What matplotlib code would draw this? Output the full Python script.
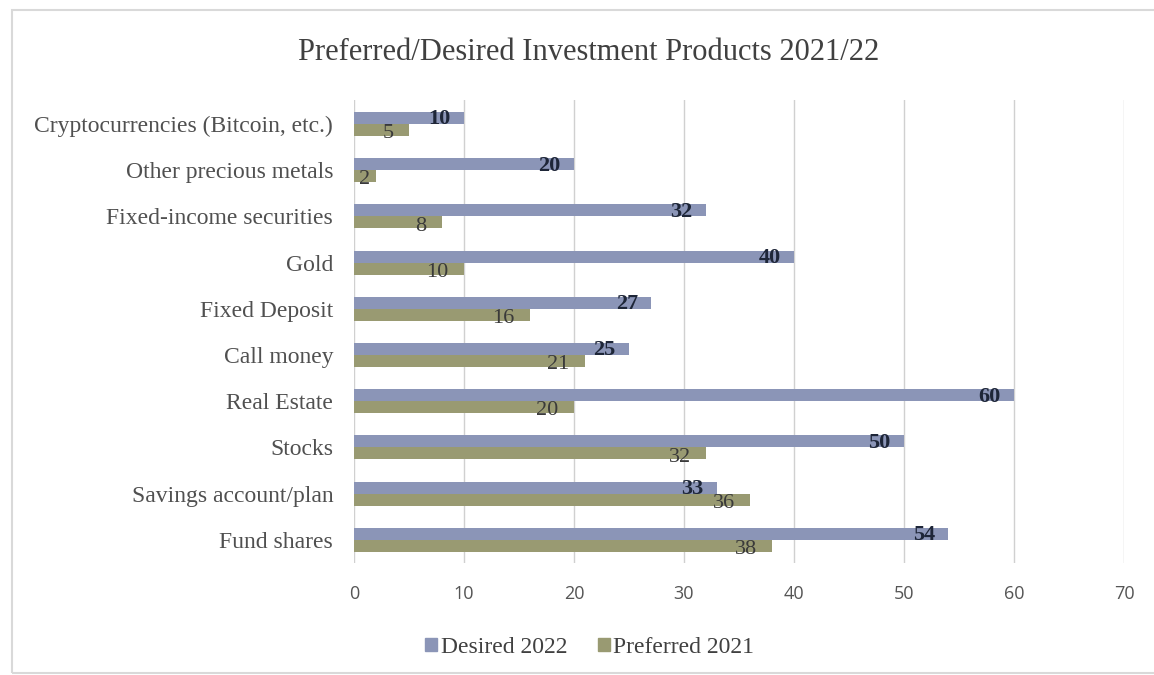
import numpy as np
import matplotlib.pyplot as plt
from matplotlib.patches import Rectangle, Patch

categories = ["Cryptocurrencies (Bitcoin, etc.)", "Other precious metals",
              "Fixed-income securities", "Gold", "Fixed Deposit", "Call money",
              "Real Estate", "Stocks", "Savings account/plan", "Fund shares"]
desired_2022 = [10, 20, 32, 40, 27, 25, 60, 50, 33, 54]
preferred_2021 = [5, 2, 8, 10, 16, 21, 20, 32, 36, 38]
x_ticks = [0, 10, 20, 30, 40, 50, 60, 70]

c_desired = "#8b95b7"
c_preferred = "#999a72"
serif = ["Liberation Serif", "DejaVu Serif"]

fig = plt.figure(figsize=(11.54, 6.75), dpi=100)
ax = fig.add_axes([354 / 1154, 1 - 563 / 675, 770 / 1154, 463 / 675])

y = np.arange(len(categories))
h = 0.26
bars_d = ax.barh(y - h / 2, desired_2022, height=h, color=c_desired, zorder=3)
bars_p = ax.barh(y + h / 2, preferred_2021, height=h, color=c_preferred, zorder=3)

# value labels, inside the bar end
for rect, v in zip(bars_d, desired_2022):
    ax.text(v - 1.2, rect.get_y() + rect.get_height() / 2 + 0.03, str(v),
            ha="right", va="center", fontsize=16, fontweight="bold",
            color="#1e2638", family=serif, zorder=4)
for rect, v in zip(bars_p, preferred_2021):
    ax.text(max(v - 1.4, 1.5), rect.get_y() + rect.get_height() / 2 + 0.08,
            str(v), ha="right", va="center", fontsize=16,
            color="#3a3a3a", family=serif, zorder=4)

ax.set_ylim(9.5, -0.52)
ax.set_xlim(0, 70)
ax.set_yticks(y)
ax.set_yticklabels(categories, family=serif, fontsize=17, color="#505050")
ax.set_xticks(x_ticks)
ax.set_xticklabels([str(t) for t in x_ticks], family="Open Sans",
                   fontsize=13, color="#555555")
ax.tick_params(axis="y", length=0, pad=15)
ax.tick_params(axis="x", length=0, pad=16)
ax.grid(axis="x", color="#d0d0d0", linewidth=1, zorder=0)
for s in ax.spines.values():
    s.set_visible(False)

fig.text(0.51, 0.922, "Preferred/Desired Investment Products 2021/22",
         ha="center", va="center", fontsize=22, color="#404040", family=serif)

handles = [Patch(color=c_desired, label="Desired 2022"),
           Patch(color=c_preferred, label="Preferred 2021")]
fig.legend(handles=handles, loc="center", bbox_to_anchor=(0.511, 0.041),
           ncol=2, frameon=False, prop={"family": serif, "size": 17},
           handlelength=0.5, handleheight=0.5, handletextpad=0.15,
           columnspacing=1.3, labelcolor="#404040")

# light outer frame
fig.patches.append(Rectangle((12 / 1154, 2 / 675), 1.1, 663 / 675,
                             transform=fig.transFigure, fill=False,
                             edgecolor="#d9d9d9", linewidth=1.5))

fig.savefig("out.png", dpi=100, facecolor="white")
